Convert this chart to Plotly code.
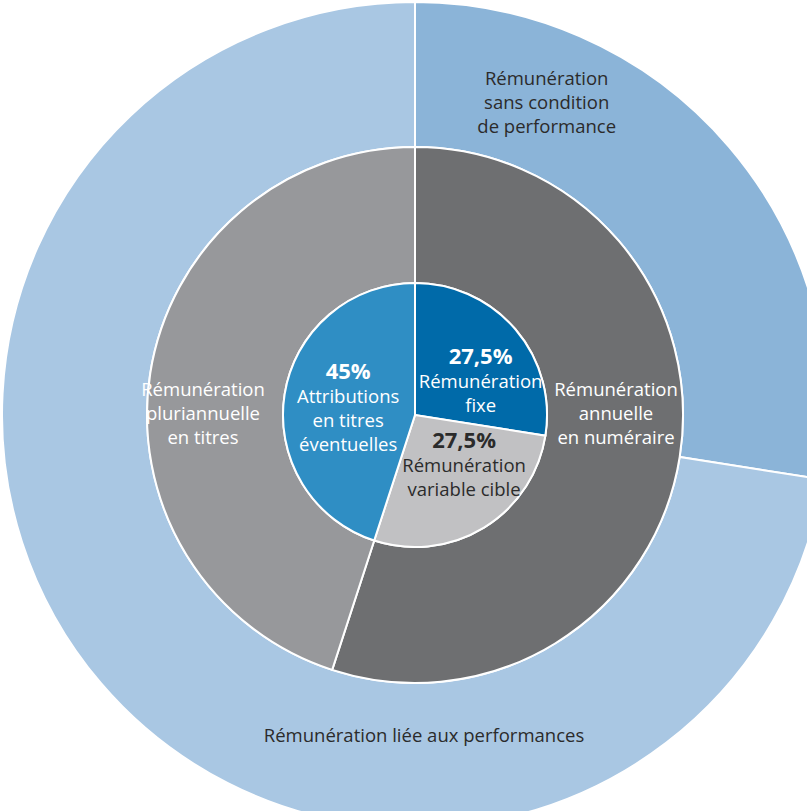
# nested donut: remuneration structure
# three rings drawn as barpolar, labels as scatterpolar text

import numpy as np
import plotly.graph_objects as go

# inner pie
inner_labels = ["Rémunération fixe", "Rémunération variable cible", "Attributions en titres éventuelles"]
inner_values = [27.5, 27.5, 45]
inner_colors = ["#006aa9", "#c1c1c3", "#2f8ec4"]

# middle ring
middle_labels = ["Rémunération annuelle en numéraire", "Rémunération pluriannuelle en titres"]
middle_values = [55, 45]
middle_colors = ["#6e6f71", "#97989b"]

# outer ring
outer_labels = ["Rémunération sans condition de performance", "Rémunération liée aux performances"]
outer_values = [27.5, 72.5]
outer_colors = ["#8bb4d8", "#a9c7e3"]

# ring radii (pixels, radial axis spans 0..415)
R_INNER = 132
R_MIDDLE = 268
R_OUTER = 413


def ring(values, labels, colors, r0, r1):
    v = np.array(values, dtype=float)
    total = v.sum()
    widths = v / total * 360
    centers = np.cumsum(widths) - widths / 2
    return go.Barpolar(
        theta=centers,
        width=widths,
        r=[r1 - r0] * len(v),
        base=[r0] * len(v),
        marker=dict(color=colors, line=dict(color="white", width=2)),
        text=labels,
        hoverinfo="text",
        showlegend=False,
    )


fig = go.Figure()
fig.add_trace(ring(outer_values, outer_labels, outer_colors, R_MIDDLE, R_OUTER))
fig.add_trace(ring(middle_values, middle_labels, middle_colors, R_INNER, R_MIDDLE))
fig.add_trace(ring(inner_values, inner_labels, inner_colors, 0, R_INNER))


def pct(v):
    s = f"{v:g}%".replace(".", ",")
    # bigger bold percentages like the original
    return f"<span style='font-size:22px'><b>{s}</b></span>"


# labels: (text, r, theta, color)
dark = "#2b2b2b"
label_rows = [
    ("Rémunération<br>sans condition<br>de performance", 337, 23, dark),
    ("Rémunération liée aux performances", 323, 178.4, dark),
    ("Rémunération<br>pluriannuelle<br>en titres", 212, 270, "white"),
    ("Rémunération<br>annuelle<br>en numéraire", 201, 90, "white"),
    (f"{pct(inner_values[2])}<br>Attributions<br>en titres<br>éventuelles", 67, 274, "white"),
    (f"{pct(inner_values[0])}<br>Rémunération<br>fixe", 73, 64, "white"),
    (f"{pct(inner_values[1])}<br>Rémunération<br>variable cible", 72, 137, dark),
]

for txt, r, th, col in label_rows:
    fig.add_trace(go.Scatterpolar(
        r=[r],
        theta=[th],
        mode="text",
        text=[txt],
        textfont=dict(family="Open Sans", size=18.5, color=col),
        hoverinfo="skip",
        showlegend=False,
    ))

fig.update_layout(
    width=830,
    height=830,
    margin=dict(l=0, r=0, t=0, b=0),
    paper_bgcolor="white",
    polar=dict(
        domain=dict(x=[0, 1], y=[0, 1]),
        bgcolor="white",
        radialaxis=dict(range=[0, 415], visible=False),
        angularaxis=dict(rotation=90, direction="clockwise", visible=False),
        hole=0,
    ),
    bargap=0,
)

fig.write_html(
    "out.html",
    config={"displayModeBar": False},
    post_script="document.body.style.margin='0';document.body.style.overflow='hidden';",
)
